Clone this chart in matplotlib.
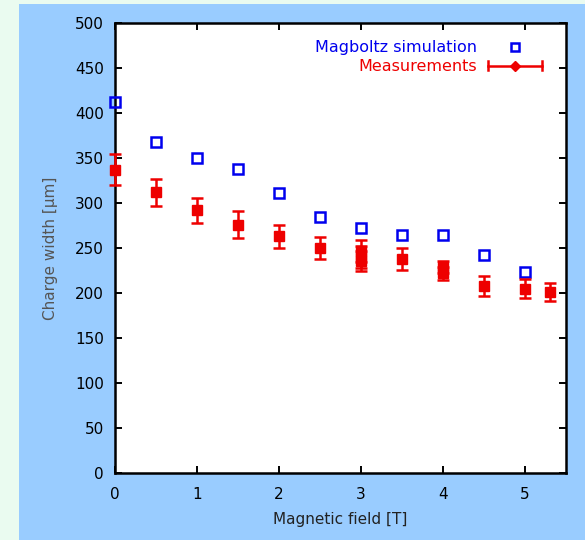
import numpy as np
import matplotlib
matplotlib.use('Agg')
import matplotlib.pyplot as plt
from matplotlib.lines import Line2D
from matplotlib.patches import Rectangle
from matplotlib.legend_handler import HandlerBase

# Magboltz simulation
sim_field = [0, 0.5, 1, 1.5, 2, 2.5, 3, 3.5, 4, 4.5, 5]
sim_width = [412, 368, 350, 338, 311, 285, 272, 264, 264, 242, 223]

# measured charge width with errors
meas_field = [0, 0.5, 1, 1.5, 2, 2.5, 3, 3, 3, 3.5, 4, 4, 4.5, 5, 5.3]
meas_width = [337, 312, 292, 276, 263, 250, 247, 240, 236, 238, 229, 222, 208, 205, 201]
meas_err = [17, 15, 14, 15, 13, 12, 12, 12, 11, 12, 7, 7, 11, 11, 10]

x_ticks = [0, 1, 2, 3, 4, 5]
y_ticks = list(range(0, 501, 50))

SIM_COLOR = '#0000ee'
MEAS_COLOR = '#ee0000'
PANEL = '#99ccff'
OUTER = '#eafbf0'


class HorizErrHandler(HandlerBase):
    # gnuplot style key sample: horizontal bar with end caps and a point
    def create_artists(self, legend, orig_handle, xdescent, ydescent,
                       width, height, fontsize, trans):
        y = height / 2 - ydescent
        x0, x1 = -xdescent, width - xdescent
        cap = height * 0.4
        line = Line2D([x0, x1], [y, y], color=MEAS_COLOR, lw=1.8, transform=trans)
        c0 = Line2D([x0, x0], [y - cap, y + cap], color=MEAS_COLOR, lw=1.8, transform=trans)
        c1 = Line2D([x1, x1], [y - cap, y + cap], color=MEAS_COLOR, lw=1.8, transform=trans)
        pt = Line2D([(x0 + x1) / 2], [y], marker='D', ms=5, color=MEAS_COLOR,
                    transform=trans)
        return [line, c0, c1, pt]


fig = plt.figure(figsize=(5.85, 5.40), dpi=100)
fig.patch.set_facecolor(OUTER)
fig.patches.append(Rectangle((19 / 585, 0), 1 - 19 / 585, 1 - 4 / 540,
                             transform=fig.transFigure, facecolor=PANEL,
                             edgecolor='none', zorder=-10))

ax = fig.add_axes([115 / 585, 1 - 473 / 540, 451 / 585, 450 / 540])
ax.set_facecolor('white')

ax.plot(sim_field, sim_width, ls='none', marker='s', ms=7, mfc='none',
        mec=SIM_COLOR, mew=1.8, label='Magboltz simulation', clip_on=False, zorder=3)
ax.errorbar(meas_field, meas_width, yerr=meas_err, fmt='s', ms=6.5,
            color=MEAS_COLOR, ecolor=MEAS_COLOR, elinewidth=1.8, capsize=4,
            capthick=1.8, clip_on=False, zorder=4)

ax.set_xlim(0, 5.5)
ax.set_ylim(0, 500)
ax.set_xticks(x_ticks)
ax.set_yticks(y_ticks)
ax.tick_params(direction='in', length=5, width=1.4, top=True, right=True,
               labelsize=11, colors='black')
ax.tick_params(axis='x', pad=10)
ax.tick_params(axis='y', pad=8)
for s in ax.spines.values():
    s.set_linewidth(1.8)

ax.set_xlabel('Magnetic field [T]', fontsize=11, color='#222222', labelpad=7)
ax.set_ylabel('Charge width [\u03bcm]', fontsize=11, color='#555555', labelpad=12)

handles = [Line2D([], [], ls='none', marker='s', ms=6, mfc='none', mec=SIM_COLOR, mew=1.8),
           Line2D([], [], color=MEAS_COLOR)]
leg = ax.legend(handles, ['Magboltz simulation', 'Measurements'],
                handler_map={handles[1]: HorizErrHandler()},
                loc='upper right', bbox_to_anchor=(0.947, 0.962), frameon=False,
                markerfirst=False, fontsize=11.5, handlelength=3.4,
                handletextpad=0.7, labelspacing=0.25, borderpad=0,
                borderaxespad=0)
for txt, col in zip(leg.get_texts(), [SIM_COLOR, MEAS_COLOR]):
    txt.set_color(col)
    txt.set_ha('right')

fig.savefig('out.png', dpi=100, facecolor=fig.get_facecolor())
